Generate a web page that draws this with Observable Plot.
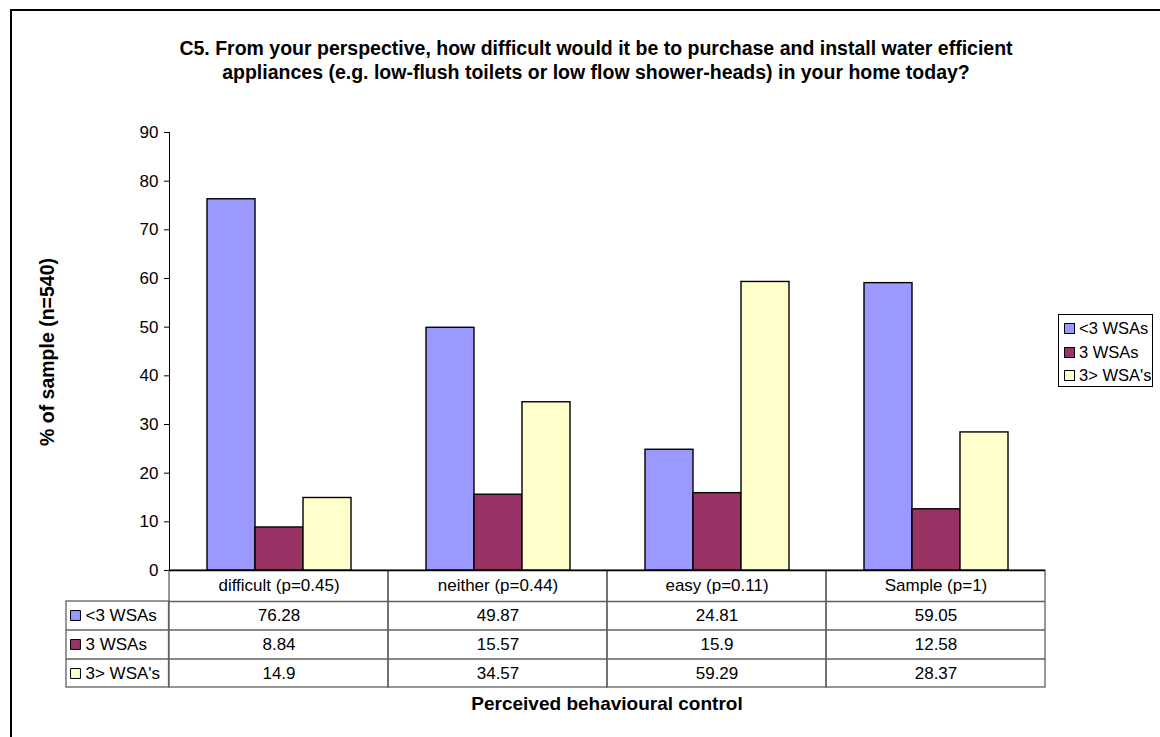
<!DOCTYPE html>
<html>
<head>
<meta charset="utf-8">
<script src="https://cdn.jsdelivr.net/npm/d3@7"></script>
<script src="https://cdn.jsdelivr.net/npm/@observablehq/plot@0.6"></script>
<style>
  html, body { margin: 0; padding: 0; background: #fff; }
  body { font-family: "Liberation Sans", Arial, sans-serif; color: #000; }
  #wrap { position: relative; width: 1160px; height: 737px; overflow: hidden; background: #fff; }
  #border { position: absolute; left: 10px; top: 9px; width: 1300px; height: 900px; border: 2px solid #000; box-sizing: border-box; }
  #chart { position: absolute; left: 0; top: 0; }
  #title { position: absolute; left: 0; top: 36px; width: 1192px; text-align: center; font-weight: bold; font-size: 19.5px; line-height: 24px; }
  #ytitle { position: absolute; left: 47px; top: 352px; transform: translate(-50%, -50%) rotate(-90deg); white-space: nowrap; font-weight: bold; font-size: 19.5px; }
  #xtitle { position: absolute; left: 607px; top: 704px; transform: translate(-50%, -50%); white-space: nowrap; font-weight: bold; font-size: 19px; }
  #legend { position: absolute; left: 1058px; top: 314px; width: 95px; height: 73px; border: 1px solid #000; box-sizing: border-box; font-size: 16.5px; padding-top: 2px; }
  .lrow { display: flex; align-items: center; height: 23.5px; padding-left: 5px; white-space: nowrap; }
  .sw { width: 9px; height: 9px; border: 1px solid #000; margin-right: 4px; flex: none; }
</style>
</head>
<body>
<div id="wrap">
  <div id="border"></div>
  <div id="chart"></div>
  <div id="title"></div>
  <div id="ytitle"></div>
  <div id="xtitle"></div>
  <div id="legend"></div>
</div>
<script>
// ---- data ----
const titleLines = [
  "C5. From your perspective, how difficult would it be to purchase and install water efficient",
  "appliances (e.g. low-flush toilets or low flow shower-heads) in your home today?"
];
const yTitle = "% of sample (n=540)";
const xTitle = "Perceived behavioural control";
const categories = ["difficult (p=0.45)", "neither (p=0.44)", "easy (p=0.11)", "Sample (p=1)"];
const seriesNames = ["<3 WSAs", "3 WSAs", "3> WSA's"];
const lessThan3 = [76.28, 49.87, 24.81, 59.05];
const exactly3 = [8.84, 15.57, 15.9, 12.58];
const moreThan3 = [14.9, 34.57, 59.29, 28.37];
const seriesColors = ["#9999FF", "#993366", "#FFFFCC"];
const yTicks = [0, 10, 20, 30, 40, 50, 60, 70, 80, 90];

// ---- build ----
const seriesValues = [lessThan3, exactly3, moreThan3];
const rows = categories.flatMap((c, i) =>
  seriesNames.map((s, j) => ({category: c, series: s, value: seriesValues[j][i]}))
);

document.getElementById("title").innerHTML = titleLines.join("<br>");
document.getElementById("ytitle").textContent = yTitle;
document.getElementById("xtitle").textContent = xTitle;
const legend = document.getElementById("legend");
seriesNames.forEach((s, i) => {
  const r = document.createElement("div");
  r.className = "lrow";
  const sw = document.createElement("span");
  sw.className = "sw";
  sw.style.background = seriesColors[i];
  const t = document.createElement("span");
  t.textContent = s;
  r.appendChild(sw); r.appendChild(t);
  legend.appendChild(r);
});

// layout
const W = 1160, H = 737, mL = 168, mR = 114, mT = 132, mB = 167;
const facetW = (W - mL - mR) / categories.length;
const rowEdges = [31, 59.5, 88.5, 117];   // table row bottoms, px below baseline
const rowMids = [15.5, 45, 74, 103];      // table row centers
const headW = 103;                        // width of row-header column
const gridColor = "#606060";
const tableFont = 17;

const first = () => categories[0];

const marks = [
  // table column boxes
  Plot.rect(categories, {fx: d => d, y1: 0, y2: 0, insetBottom: -rowEdges[3], fill: "none", stroke: gridColor, strokeWidth: 1.3}),
  // table row lines across columns
  ...rowEdges.slice(0, 3).map(e => Plot.ruleY([0], {dy: e, stroke: gridColor, strokeWidth: 1.3})),
  // row header box
  Plot.rect([categories[0]], {fx: first, y1: 0, y2: 0, insetTop: rowEdges[0], insetBottom: -rowEdges[3], insetLeft: -headW, insetRight: facetW, fill: "none", stroke: gridColor, strokeWidth: 1.3}),
  ...rowEdges.slice(1, 3).map(e => Plot.ruleY([categories[0]], {fx: first, y: () => 0, dy: e, insetLeft: -headW, insetRight: facetW, stroke: gridColor, strokeWidth: 1.3})),
  // bars
  Plot.barY(rows, {fx: "category", x: "series", y: "value", fill: "series", stroke: "#000", strokeWidth: 1.4, insetLeft: 0, insetRight: 0}),
  // baseline
  Plot.ruleY([0], {stroke: "#000", strokeWidth: 1.3}),
  // table header row (categories)
  Plot.text(categories, {fx: d => d, text: d => d, frameAnchor: "bottom", lineAnchor: "middle", dy: rowMids[0], fontSize: tableFont}),
  // table value rows
  ...seriesNames.map((s, j) => Plot.text(rows.filter(d => d.series === s), {
    fx: "category", text: d => String(d.value), frameAnchor: "bottom", lineAnchor: "middle", dy: rowMids[j + 1], fontSize: tableFont
  })),
  // row header labels + swatches
  ...seriesNames.map((s, j) => Plot.dot([s], {
    fx: first, frameAnchor: "bottom-left", dx: -94, dy: rowMids[j + 1], symbol: "square", r: 5.6,
    fill: seriesColors[j], stroke: "#000", strokeWidth: 1
  })),
  ...seriesNames.map((s, j) => Plot.text([s], {
    fx: first, text: d => d, frameAnchor: "bottom-left", textAnchor: "start", lineAnchor: "middle",
    dx: -84, dy: rowMids[j + 1], fontSize: tableFont
  }))
];

const chart = Plot.plot({
  width: W, height: H,
  marginTop: mT, marginBottom: mB, marginLeft: mL, marginRight: mR,
  style: {fontFamily: "'Liberation Sans', Arial, sans-serif", fontSize: "17px", color: "#000", background: "transparent", overflow: "visible"},
  fx: {domain: categories, padding: 0, axis: null, label: null},
  x: {domain: seriesNames, paddingInner: 0, paddingOuter: 0.74, axis: null},
  y: {domain: [0, 90], ticks: yTicks, tickSize: 5, tickPadding: 6, label: null, line: true},
  color: {domain: seriesNames, range: seriesColors},
  marks
});
document.getElementById("chart").appendChild(chart);
</script>
</body>
</html>
